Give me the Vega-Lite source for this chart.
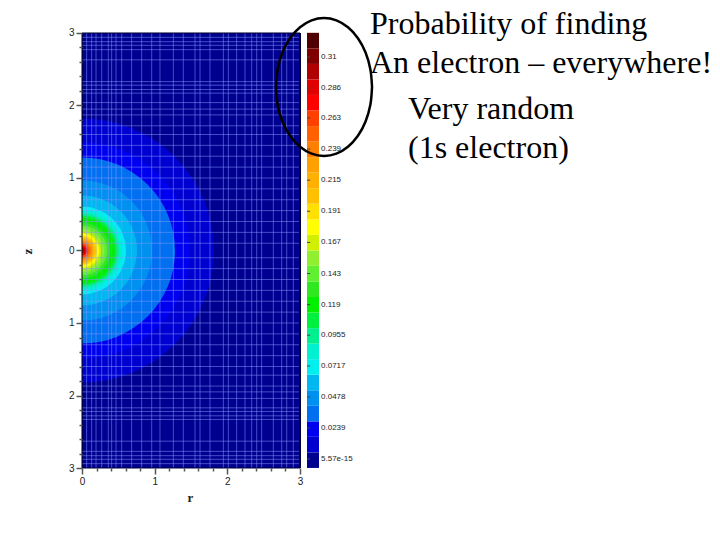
{"$schema":"https://vega.github.io/schema/vega-lite/v6.json","width":720,"height":540,"padding":0,"autosize":{"type":"none"},"background":"white","view":{"stroke":null},
"datasets":{
"bg":[{"r0":0,"r1":3,"z0":-3,"z1":3,"band":0}],
"discs":[{"band":1,"R":1.816},{"band":2,"R":1.486},{"band":3,"R":1.28},{"band":4,"R":0.963},{"band":5,"R":0.757},{"band":6,"R":0.605},{"band":7,"R":0.55},{"band":8,"R":0.509},{"band":9,"R":0.482},{"band":10,"R":0.454},{"band":11,"R":0.385},{"band":12,"R":0.344},{"band":13,"R":0.303},{"band":14,"R":0.261},{"band":15,"R":0.234},{"band":16,"R":0.206},{"band":17,"R":0.186},{"band":18,"R":0.165},{"band":19,"R":0.151},{"band":20,"R":0.131},{"band":21,"R":0.11},{"band":22,"R":0.089},{"band":23,"R":0.069},{"band":24,"R":0.048},{"band":25,"R":0.034},{"band":26,"R":0.021},{"band":27,"R":0.01}],
"gridR":[{"r":0.064},{"r":0.133},{"r":0.193},{"r":0.271},{"r":0.362},{"r":0.408},{"r":0.468},{"r":0.546},{"r":0.683},{"r":0.821},{"r":0.959},{"r":1.073},{"r":1.257},{"r":1.394},{"r":1.555},{"r":1.624},{"r":1.761},{"r":1.945},{"r":2.014},{"r":2.128},{"r":2.243},{"r":2.335},{"r":2.404},{"r":2.472},{"r":2.633},{"r":2.748},{"r":2.817},{"r":2.908}],
"gridZ":[{"z":2.94},{"z":2.88},{"z":2.83},{"z":2.77},{"z":2.63},{"z":2.33},{"z":2.28},{"z":2.22},{"z":2.17},{"z":2.04},{"z":1.95},{"z":1.87},{"z":1.72},{"z":1.6},{"z":1.45},{"z":1.3},{"z":1.15},{"z":1.0},{"z":0.85},{"z":0.7},{"z":0.55},{"z":0.4},{"z":0.25},{"z":0.1},{"z":-0.1},{"z":-0.25},{"z":-0.4},{"z":-0.55},{"z":-0.7},{"z":-0.85},{"z":-1.0},{"z":-1.15},{"z":-1.3},{"z":-1.45},{"z":-1.6},{"z":-1.72},{"z":-1.87},{"z":-1.95},{"z":-2.04},{"z":-2.17},{"z":-2.22},{"z":-2.28},{"z":-2.33},{"z":-2.63},{"z":-2.77},{"z":-2.83},{"z":-2.88},{"z":-2.94}],
"ellipse":[{"i":0,"r":3.991,"z":2.255},{"i":1,"r":3.968,"z":2.501},{"i":2,"r":3.902,"z":2.731},{"i":3,"r":3.797,"z":2.928},{"i":4,"r":3.66,"z":3.079},{"i":5,"r":3.501,"z":3.174},{"i":6,"r":3.33,"z":3.207},{"i":7,"r":3.159,"z":3.174},{"i":8,"r":3.0,"z":3.079},{"i":9,"r":2.863,"z":2.928},{"i":10,"r":2.758,"z":2.731},{"i":11,"r":2.692,"z":2.501},{"i":12,"r":2.669,"z":2.255},{"i":13,"r":2.692,"z":2.009},{"i":14,"r":2.758,"z":1.779},{"i":15,"r":2.863,"z":1.582},{"i":16,"r":3.0,"z":1.431},{"i":17,"r":3.159,"z":1.336},{"i":18,"r":3.33,"z":1.303},{"i":19,"r":3.501,"z":1.336},{"i":20,"r":3.66,"z":1.431},{"i":21,"r":3.797,"z":1.582},{"i":22,"r":3.902,"z":1.779},{"i":23,"r":3.968,"z":2.009},{"i":24,"r":3.991,"z":2.255}],
"notes":[{"t":"Probability of finding","r":3.963,"z":2.986},{"t":"An electron – everywhere!","r":3.963,"z":2.448},{"t":"Very random","r":4.486,"z":1.814},{"t":"(1s electron)","r":4.486,"z":1.276}],
"bar":[{"band":0,"v0":-0.0069,"v1":0.0051},{"band":1,"v0":0.0051,"v1":0.0171},{"band":2,"v0":0.0171,"v1":0.029},{"band":3,"v0":0.029,"v1":0.041},{"band":4,"v0":0.041,"v1":0.053},{"band":5,"v0":0.053,"v1":0.065},{"band":6,"v0":0.065,"v1":0.077},{"band":7,"v0":0.077,"v1":0.0889},{"band":8,"v0":0.0889,"v1":0.1009},{"band":9,"v0":0.1009,"v1":0.1129},{"band":10,"v0":0.1129,"v1":0.1249},{"band":11,"v0":0.1249,"v1":0.1369},{"band":12,"v0":0.1369,"v1":0.1489},{"band":13,"v0":0.1489,"v1":0.1608},{"band":14,"v0":0.1608,"v1":0.1728},{"band":15,"v0":0.1728,"v1":0.1848},{"band":16,"v0":0.1848,"v1":0.1968},{"band":17,"v0":0.1968,"v1":0.2088},{"band":18,"v0":0.2088,"v1":0.2208},{"band":19,"v0":0.2208,"v1":0.2327},{"band":20,"v0":0.2327,"v1":0.2447},{"band":21,"v0":0.2447,"v1":0.2567},{"band":22,"v0":0.2567,"v1":0.2687},{"band":23,"v0":0.2687,"v1":0.2807},{"band":24,"v0":0.2807,"v1":0.2927},{"band":25,"v0":0.2927,"v1":0.3046},{"band":26,"v0":0.3046,"v1":0.3166},{"band":27,"v0":0.3166,"v1":0.3286}],
"barLabels":[{"v":0.31,"t":"0.31"},{"v":0.286,"t":"0.286"},{"v":0.263,"t":"0.263"},{"v":0.239,"t":"0.239"},{"v":0.215,"t":"0.215"},{"v":0.191,"t":"0.191"},{"v":0.167,"t":"0.167"},{"v":0.143,"t":"0.143"},{"v":0.119,"t":"0.119"},{"v":0.0955,"t":"0.0955"},{"v":0.0717,"t":"0.0717"},{"v":0.0478,"t":"0.0478"},{"v":0.0239,"t":"0.0239"},{"v":0.0,"t":"5.57e-15"}]
},
"resolve":{"scale":{"y":"independent"}},
"layer":[
{"layer":[
{"data":{"name":"bg"},"mark":{"type":"rect"},"encoding":{
"x":{"field":"r0","type":"quantitative","scale":{"domain":[-1.1284,8.7794],"nice":false,"zero":false},"axis":{"title":"r","titleFont":"Liberation Serif","titleFontWeight":"bold","titleFontSize":13,"titleColor":"#222","titleX":190,"titleY":23,"offset":-72,"domain":false,"grid":false,"tickCount":200,"zindex":1,"values":[0,0.2,0.4,0.6,0.8,1,1.2,1.4,1.6,1.8,2,2.2,2.4,2.6,2.8,3],"labelExpr":"datum.value==round(datum.value)?datum.value:''","labelFont":"Liberation Sans","labelFontSize":10,"labelColor":"#222","labelOverlap":false,"labelPadding":2,"tickColor":"#555","tickSize":{"condition":{"test":"abs(datum.value-round(datum.value))<0.01","value":6},"value":3},"tickWidth":1.5}},
"x2":{"field":"r1"},
"y":{"field":"z0","type":"quantitative","scale":{"domain":[-3.993,3.455],"nice":false,"zero":false},"axis":{"title":"z","titleFont":"Liberation Serif","titleFontWeight":"bold","titleFontSize":13,"titleColor":"#222","titleY":251,"titleX":-48,"offset":-82,"domain":false,"grid":false,"tickCount":200,"zindex":1,"values":[-3,-2.8,-2.6,-2.4,-2.2,-2,-1.8,-1.6,-1.4,-1.2,-1,-0.8,-0.6,-0.4,-0.2,0,0.2,0.4,0.6,0.8,1,1.2,1.4,1.6,1.8,2,2.2,2.4,2.6,2.8,3],"labelExpr":"abs(datum.value-round(datum.value))<0.01?abs(round(datum.value)):''","labelFont":"Liberation Sans","labelFontSize":10,"labelColor":"#222","labelOverlap":false,"labelPadding":2,"tickColor":"#555","tickSize":{"condition":{"test":"abs(datum.value-round(datum.value))<0.01","value":6},"value":3},"tickWidth":1.5}},
"y2":{"field":"z1"},
"color":{"field":"band","type":"ordinal","legend":null,"scale":{"domain":[0,1,2,3,4,5,6,7,8,9,10,11,12,13,14,15,16,17,18,19,20,21,22,23,24,25,26,27],"range":["#000090","#0000d0","#0000f0","#0070f0","#0090f0","#00b8f0","#00f0f0","#00f0d0","#00f090","#00f040","#00f000","#30e820","#60f030","#90f030","#d0f000","#ffff00","#ffe000","#ffc000","#ffb000","#ffa000","#ff8000","#ff6000","#ff4000","#ff0000","#e00000","#b00000","#800000","#500000"]}}
}},
{"data":{"name":"discs"},"mark":{"type":"arc","theta":0,"theta2":3.14159},"encoding":{
"x":{"datum":0,"type":"quantitative"},"y":{"datum":0,"type":"quantitative"},
"radius":{"field":"R","type":"quantitative","stack":null,"scale":{"type":"linear","domain":[0,3],"range":[0,218],"zero":true}},
"color":{"field":"band","type":"ordinal","legend":null}
}},
{"data":{"name":"gridR"},"mark":{"type":"rule","stroke":"#8899ff","strokeOpacity":0.5,"strokeWidth":1},"encoding":{"x":{"field":"r","type":"quantitative"},"y":{"datum":-3,"type":"quantitative"},"y2":{"datum":3}}},
{"data":{"name":"gridZ"},"mark":{"type":"rule","stroke":"#8899ff","strokeOpacity":0.5,"strokeWidth":1},"encoding":{"y":{"field":"z","type":"quantitative"},"x":{"datum":0,"type":"quantitative"},"x2":{"datum":3}}},
{"data":{"values":[{"r":0,"c":"a"}]},"mark":{"type":"rule","stroke":"#000000","strokeWidth":1},"encoding":{"x":{"field":"r","type":"quantitative"},"y":{"datum":-3,"type":"quantitative"},"y2":{"datum":3}}},
{"data":{"values":[{"r":3}]},"mark":{"type":"rule","stroke":"#000030","strokeWidth":2},"encoding":{"x":{"field":"r","type":"quantitative"},"y":{"datum":-3,"type":"quantitative"},"y2":{"datum":3}}},
{"data":{"values":[{"z":3},{"z":-3}]},"mark":{"type":"rule","stroke":"#000030","strokeWidth":1},"encoding":{"y":{"field":"z","type":"quantitative"},"x":{"datum":0,"type":"quantitative"},"x2":{"datum":3}}},
{"data":{"name":"notes"},"mark":{"type":"text","font":"Liberation Serif","fontSize":32,"align":"left","baseline":"alphabetic","color":"#000000"},"encoding":{"x":{"field":"r","type":"quantitative"},"y":{"field":"z","type":"quantitative"},"text":{"field":"t"}}}
]},
{"layer":[
{"data":{"name":"bar"},"mark":{"type":"rect"},"encoding":{
"x":{"datum":3.096,"type":"quantitative"},
"x2":{"datum":3.261},
"y":{"field":"v0","type":"quantitative","scale":{"domain":[-0.06245,0.3539],"nice":false,"zero":false},"axis":null},
"y2":{"field":"v1"},
"color":{"field":"band","type":"ordinal","legend":null}
}},
{"data":{"name":"barLabels"},"mark":{"type":"rule","stroke":"#444","strokeWidth":1},"encoding":{"x":{"datum":3.096,"type":"quantitative"},"x2":{"datum":3.14},"y":{"field":"v","type":"quantitative","axis":null}}},
{"data":{"name":"barLabels"},"mark":{"type":"text","font":"Liberation Sans","fontSize":8,"align":"left","baseline":"middle","color":"#222"},"encoding":{"x":{"datum":3.289,"type":"quantitative"},"y":{"field":"v","type":"quantitative","axis":null},"text":{"field":"t"}}}
]},
{"data":{"name":"ellipse"},"mark":{"type":"line","interpolate":"cardinal","stroke":"#000000","strokeWidth":2.5},"encoding":{
"x":{"field":"r","type":"quantitative"},
"y":{"field":"z","type":"quantitative","scale":{"domain":[-3.993,3.455],"nice":false,"zero":false},"axis":null},
"order":{"field":"i"}}}
]}
